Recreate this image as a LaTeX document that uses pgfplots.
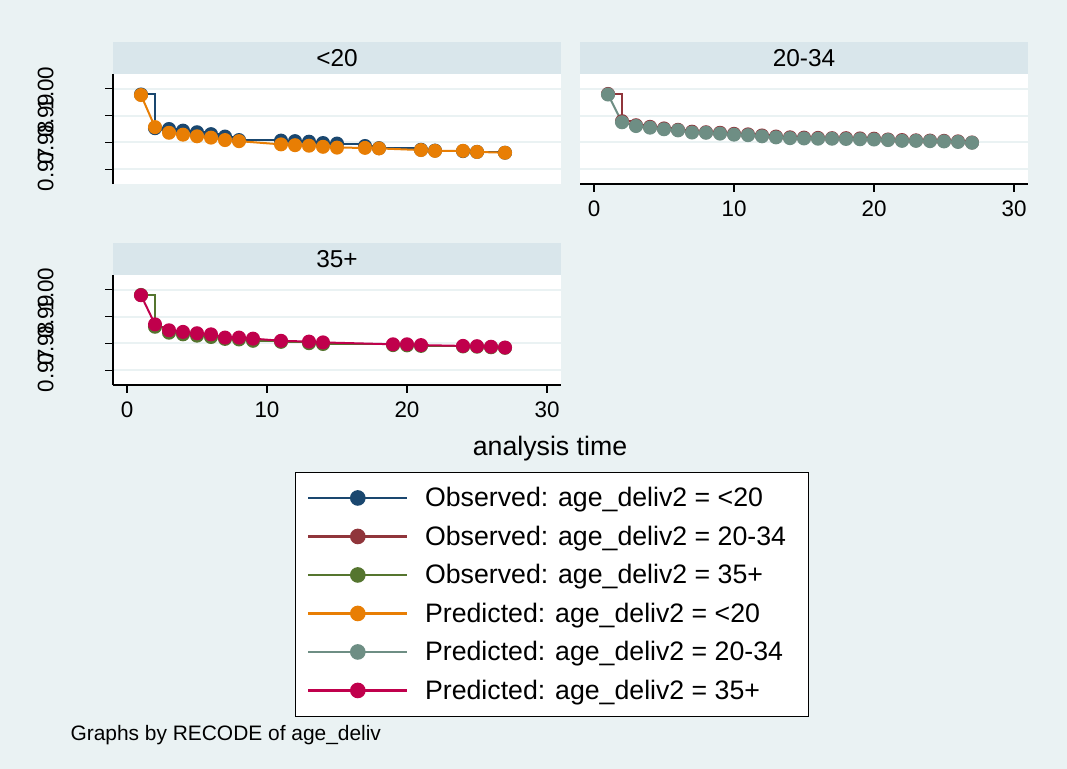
\documentclass[border=0pt]{standalone}
\usepackage{fontspec}
\setmainfont{Liberation Sans}
\usepackage{pgfplots}
\pgfplotsset{compat=1.18}

\definecolor{bgcol}{RGB}{234,242,243}
\definecolor{stripcol}{RGB}{217,230,235}
\definecolor{gridcol}{RGB}{234,242,243}
\definecolor{obsA}{RGB}{26,71,111}
\definecolor{obsB}{RGB}{144,53,59}
\definecolor{obsC}{RGB}{85,117,47}
\definecolor{preA}{RGB}{232,126,4}
\definecolor{preB}{RGB}{110,142,132}
\definecolor{preC}{RGB}{192,0,76}

\pgfplotsset{
  every axis title shift=0pt,
  panel/.style={
    scale only axis, width=448bp, height=110bp,
    xmin=-1, xmax=31, ymin=0.9646, ymax=1.0054,
    xtick={0,10,20,30}, ytick={0.97,0.98,0.99,1.00},
    axis lines*=left,
    axis line style={line width=1.3bp, black},
    tick align=outside, major tick length=7.5bp,
    tick style={line width=1.3bp, black},
    ymajorgrids, major grid style={line width=2bp, gridcol},
    axis background/.style={fill=white},
    tick label style={font=\fontsize{22.5}{27}\selectfont},
    /pgf/number format/assume math mode=true,
    yticklabel style={/pgf/number format/.cd, fixed, fixed zerofill, precision=2,
      /tikz/.cd, anchor=base, xshift=-52bp, rotate=90},
    xticklabel style={yshift=-6bp},
    title style={at={(0.5,1)}, anchor=south, fill=stripcol, minimum width=448bp,
      minimum height=32bp, inner sep=0pt,
      font=\fontsize{24.5}{29}\selectfont},
  },
  obs/.style={const plot mark left, line width=2bp, mark=*, mark size=6bp},
  pre/.style={sharp plot, line width=2bp, mark=*, mark size=6bp},
}

\begin{document}
\begin{tikzpicture}
\fill[bgcol] (0,0) rectangle (1067bp,-769bp);
\useasboundingbox (0,0) rectangle (1067bp,-769bp);

% panel: <20
\begin{axis}[panel, at={(113bp,-184bp)}, anchor=south west, title={<20},
  xtick=\empty, x axis line style={draw=none}]
\addplot[obs, color=obsA] coordinates {
 (1,0.9978)(2,0.9853)(3,0.9850)(4,0.9844)(5,0.9838)(6,0.9831)(7,0.9822)(8,0.9809)
 (11,0.9807)(12,0.9805)(13,0.9803)(14,0.9798)(15,0.9796)(17,0.9787)(18,0.9779)
 (21,0.9773)(22,0.9770)(24,0.9768)(25,0.9765)(27,0.9762)};
\addplot[pre, color=preA] coordinates {
 (1,0.9976)(2,0.9857)(3,0.9836)(4,0.9829)(5,0.9823)(6,0.9818)(7,0.9809)(8,0.9805)
 (11,0.9793)(12,0.9790)(13,0.9788)(14,0.9784)(15,0.9781)(17,0.9780)(18,0.9778)
 (21,0.9772)(22,0.9769)(24,0.9769)(25,0.9765)(27,0.9762)};
\end{axis}

% panel: 20-34
\begin{axis}[panel, at={(580bp,-184bp)}, anchor=south west, title={20-34},
  y axis line style={draw=none}, ytick style={draw=none}, yticklabels={}]
\addplot[obs, color=obsB] coordinates {
 (1,0.9980)(2,0.9879)(3,0.9864)(4,0.9858)(5,0.9852)(6,0.9847)(7,0.9840)(8,0.9838)
 (9,0.9836)(10,0.9832)(11,0.9830)(12,0.9826)(13,0.9822)(14,0.9819)(15,0.9818)
 (16,0.9817)(17,0.9816)(18,0.9816)(19,0.9815)(20,0.9814)(21,0.9811)(22,0.9809)
 (23,0.9808)(24,0.9807)(25,0.9806)(26,0.9804)(27,0.9800)};
\addplot[pre, color=preB] coordinates {
 (1,0.9978)(2,0.9875)(3,0.9861)(4,0.9855)(5,0.9849)(6,0.9845)(7,0.9837)(8,0.9836)
 (9,0.9833)(10,0.9829)(11,0.9827)(12,0.9823)(13,0.9819)(14,0.9816)(15,0.9815)
 (16,0.9814)(17,0.9814)(18,0.9813)(19,0.9812)(20,0.9811)(21,0.9809)(22,0.9806)
 (23,0.9806)(24,0.9805)(25,0.9804)(26,0.9802)(27,0.9799)};
\end{axis}

% panel: 35+
\begin{axis}[panel, at={(113bp,-385bp)}, anchor=south west, title={35+}]
\addplot[obs, color=obsC] coordinates {
 (1,0.9980)(2,0.9862)(3,0.9840)(4,0.9834)(5,0.9829)(6,0.9824)(7,0.9817)(8,0.9815)
 (9,0.9810)(11,0.9806)(13,0.9801)(14,0.9798)(19,0.9794)(20,0.9793)(21,0.9791)
 (24,0.9789)(25,0.9788)(26,0.9786)(27,0.9784)};
\addplot[pre, color=preC] coordinates {
 (1,0.9979)(2,0.9871)(3,0.9849)(4,0.9843)(5,0.9838)(6,0.9834)(7,0.9822)(8,0.9822)
 (9,0.9818)(11,0.9810)(13,0.9807)(14,0.9804)(19,0.9797)(20,0.9797)(21,0.9794)
 (24,0.9791)(25,0.9790)(26,0.9788)(27,0.9785)};
\end{axis}

\node[anchor=base, font=\fontsize{26.8}{32}\selectfont] at (550bp,-455bp) {analysis time};

% legend
\begin{axis}[at={(294.5bp,-471.6bp)}, anchor=north west, scale only axis,
  width=1bp, height=1bp, hide axis, xmin=0, xmax=1, ymin=0, ymax=1,
  legend cell align=left,
  legend style={at={(0,1)}, anchor=north west, draw=black, line width=1bp,
    fill=white, inner xsep=12bp, inner ysep=6.6bp, row sep=0pt,
    font=\fontsize{26.8}{32}\selectfont,
    nodes={inner sep=0pt, minimum height=38.5bp},
    /tikz/every odd column/.append style={column sep=16.5bp}},
  legend image code/.code={
    \draw[#1, mark=none] (0bp,0bp) -- (99bp,0bp);
    \draw[#1] plot[only marks] coordinates {(49.5bp,0bp)};}]
\addlegendimage{color=obsA, line width=2.6bp, mark=*, mark size=6.5bp}
\addlegendentry{Observed: age\_deliv2 = <20}
\addlegendimage{color=obsB, line width=2.6bp, mark=*, mark size=6.5bp}
\addlegendentry{Observed: age\_deliv2 = 20-34\hspace*{10bp}}
\addlegendimage{color=obsC, line width=2.6bp, mark=*, mark size=6.5bp}
\addlegendentry{Observed: age\_deliv2 = 35+}
\addlegendimage{color=preA, line width=2.6bp, mark=*, mark size=6.5bp}
\addlegendentry{Predicted: age\_deliv2 = <20}
\addlegendimage{color=preB, line width=2.6bp, mark=*, mark size=6.5bp}
\addlegendentry{Predicted: age\_deliv2 = 20-34}
\addlegendimage{color=preC, line width=2.6bp, mark=*, mark size=6.5bp}
\addlegendentry{Predicted: age\_deliv2 = 35+}
\end{axis}

\node[anchor=base west, font=\fontsize{21}{25}\selectfont] at (67bp,-740.5bp) {Graphs by RECODE of age\_deliv};
\end{tikzpicture}
\end{document}
